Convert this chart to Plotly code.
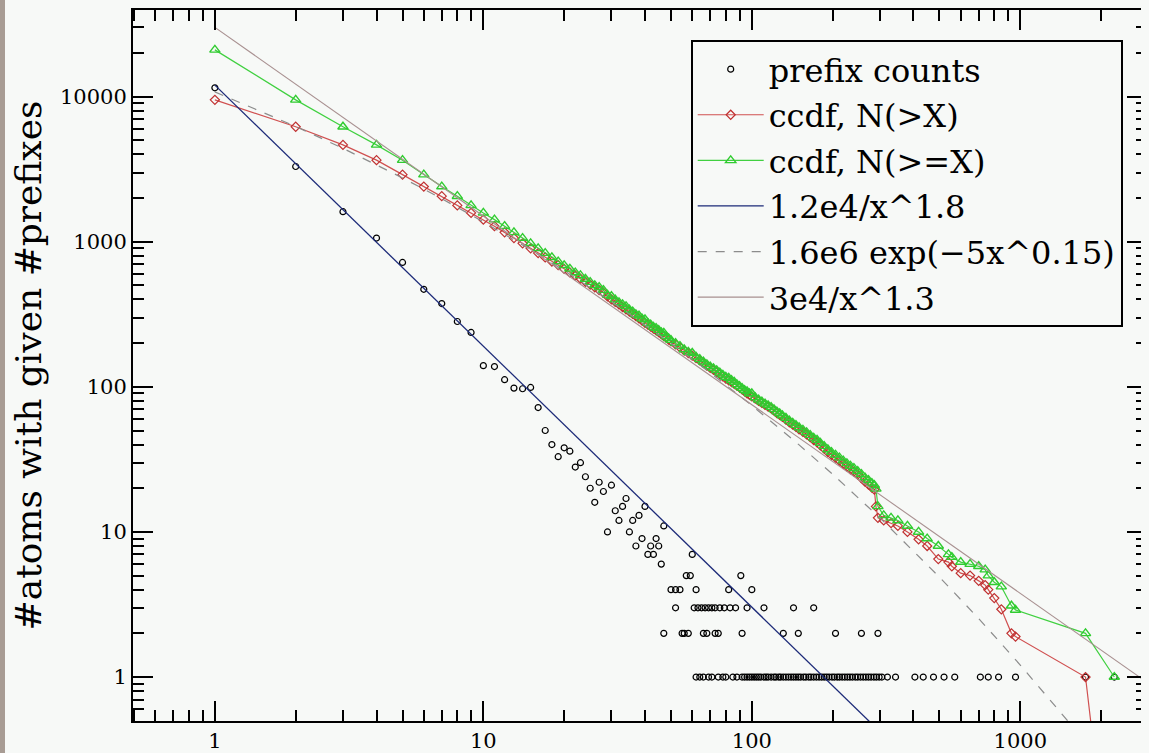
import plotly.graph_objects as go

# prefix counts: x = #prefixes, y = #atoms with that count
count_x = [1, 2, 3, 4, 5, 6, 7, 8, 9, 10, 11, 12, 13, 14, 15, 16, 17, 18, 19, 20,
           21, 22, 23, 24, 25, 26, 27, 28, 29, 30, 31, 32, 33, 34, 35, 36, 37, 38, 39, 40,
           41, 42, 43, 44, 45, 46, 47, 60,
           50, 52, 54, 62, 82, 100,
           57, 59, 91,
           52, 61, 63, 65, 67, 69, 71, 73, 76, 79, 83, 87, 96, 111, 143, 170,
           47, 55, 56, 58, 66, 68, 73, 75, 92, 131, 149, 205, 256, 295,
           62, 64, 66, 69, 71, 75, 78, 80, 85, 88, 92, 94, 96, 98, 100, 102, 104, 106,
           108, 111, 113, 115, 118, 121, 123, 126, 128, 131, 134, 137, 140, 143, 146,
           149, 152, 156, 159, 163, 166, 170, 174, 178, 182, 186, 190, 194, 199, 203,
           208, 212, 217, 222, 227, 232, 237, 243, 248, 254, 260, 266, 272, 278, 285,
           291, 298, 305, 320, 343, 405, 435, 475, 520, 570, 710, 760, 830, 960, 1750, 2240]
count_y = [11500, 3300, 1610, 1060, 720, 470, 375, 282, 237, 140, 138, 112, 98, 97, 99, 72, 50, 40, 33, 38,
           36, 28, 30, 24, 20, 16, 22, 19, 10, 21, 14, 12, 15, 17, 10, 12, 8, 13, 9, 15,
           7, 8, 7, 9, 8, 6, 11, 7,
           4, 4, 4, 4, 4, 4,
           5, 5, 5,
           3, 3, 3, 3, 3, 3, 3, 3, 3, 3, 3, 3, 3, 3, 3, 3,
           2, 2, 2, 2, 2, 2, 2, 2, 2, 2, 2, 2, 2, 2,
           1, 1, 1, 1, 1, 1, 1, 1, 1, 1, 1, 1, 1, 1, 1, 1, 1, 1,
           1, 1, 1, 1, 1, 1, 1, 1, 1, 1, 1, 1, 1, 1, 1, 1, 1,
           1, 1, 1, 1, 1, 1, 1, 1, 1, 1, 1, 1, 1, 1,
           1, 1, 1, 1, 1, 1, 1, 1, 1, 1, 1, 1, 1, 1, 1,
           1, 1, 1, 1, 1, 1, 1, 1, 1, 1, 1, 1, 1, 1, 1]

# x positions shared by both ccdf curves
ccdf_x = [1, 2, 3, 4, 5, 6, 7, 8, 9, 10, 11, 12, 13, 14, 15, 16, 17, 18, 19,
          20, 21, 22, 23, 24, 25, 26, 27, 28, 29, 30, 31, 32, 33, 34, 35, 36, 37, 38, 39,
          40, 41, 42, 43, 44, 45, 46, 47, 48, 49, 50, 52, 54, 56, 58, 60, 62, 64, 66, 68,
          70, 72, 74, 76, 78, 80, 82, 84, 86, 88, 90, 92, 94, 96, 98, 100, 103, 106, 109,
          112, 115, 118, 121, 124, 127, 130, 134, 138, 142, 146, 150, 155, 160, 165, 170,
          175, 180, 186, 192, 198, 205, 212, 219, 226, 233, 240, 248, 256, 264, 272, 280,
          286, 290, 295, 310, 330, 350, 380, 418, 450, 495, 540, 556, 600, 650, 700, 740,
          760, 800, 850, 927, 960, 1750, 2240]

# ccdf N(>X)
gt_y = [9500, 6200, 4650, 3650, 2900, 2400, 2060, 1780, 1580, 1420, 1280, 1160, 1060, 975, 900, 835, 780, 730, 690,
        650, 615, 585, 556, 530, 507, 485, 464, 445, 420, 400, 385, 370, 355, 342, 330, 318, 307, 296, 286,
        276, 268, 260, 252, 245, 238, 231, 224, 218, 212, 206, 196, 187, 178, 171, 164, 158, 152, 146, 140,
        135, 131, 127, 122, 118, 114, 111, 108, 105, 102, 99, 96, 93, 90, 88, 86, 83, 80, 77.5,
        75, 73, 71, 68.5, 66, 64, 62, 59.5, 57, 55, 53, 51, 49, 47, 45, 43,
        41.5, 39.5, 37.5, 35.5, 34, 32.5, 31, 29.5, 28.2, 27, 26, 24.8, 23.5, 22.2, 21.2, 20.2,
        19.6, 15, 12.5, 12, 11.5, 11, 10, 8.9, 8, 6.5, 6.2, 5.8, 5.2, 5, 4.6, 4.3,
        4.0, 3.5, 2.93, 2.0, 1.9, 1.0, 0.02]

# ccdf N(>=X)
ge_y = [21000, 9500, 6200, 4650, 3650, 2900, 2400, 2060, 1780, 1580, 1420, 1280, 1160, 1060, 975, 900, 835, 780, 730,
        688, 651, 613, 586, 554, 527, 501, 486, 464, 430, 421, 399, 382, 370, 359, 340, 330, 315, 309, 295,
        291, 275, 268, 259, 254, 246, 237, 235, 223, 216, 210, 200, 191, 181, 174, 171, 161, 155, 149, 143,
        138, 134, 130, 125, 121, 117, 115, 111, 108, 104, 101, 98, 95, 93, 90, 90, 84.5, 81.5, 79,
        76.5, 74.5, 72.5, 70, 67.5, 65.5, 63.5, 61, 58.5, 56.5, 54.5, 52.5, 50.5, 48.5, 46.5, 44.5,
        43, 41, 39, 37, 35.5, 34, 32.5, 31, 29.7, 28.5, 27.5, 26.2, 25, 23.7, 22.7, 21.7,
        21, 19.8, 15, 13, 12.5, 12, 11, 10, 9, 8, 7, 6.7, 6.2, 6, 5.8, 5.5,
        5, 4.5, 4.2, 3.1, 2.9, 2, 1]

# fit 1.2e4/x^1.8
fit1_x = [1, 300]
fit1_y = [12000, 0.42]
# fit 1.6e6 exp(-5x^0.15)
fit2_x = [1, 1.5, 2, 3, 5, 7, 10, 15, 20, 30, 50, 70, 100, 150, 200, 300, 500, 700, 1000, 1500, 2000]
fit2_y = [10781, 7880, 6232, 4403, 2753, 1980, 1371, 880, 632, 386, 199, 125, 74.4, 39.8, 25.0, 12.5,
          4.88, 2.53, 1.21, 0.50, 0.26]
# fit 3e4/x^1.3
fit3_x = [1, 3000]
fit3_y = [30000, 0.905]

x_ticks = [1, 10, 100, 1000]
y_ticks = [1, 10, 100, 1000, 10000]

SERIF = "DejaVu Serif, Liberation Serif, serif"
BG = "#f7f9f7"

fig = go.Figure()

fig.add_trace(go.Scatter(
    x=count_x, y=count_y, mode="markers", name="prefix counts", legendgroup="a",
    marker=dict(symbol="circle-open", size=6, color="black", line=dict(width=1.2))))

fig.add_trace(go.Scatter(
    x=ccdf_x[:len(gt_y)], y=gt_y, mode="lines+markers", name="ccdf, N(>X)", legendgroup="b",
    line=dict(color="#d05050", width=1.2),
    marker=dict(symbol="diamond-open", size=7, color="#c03030", line=dict(width=1.2))))

fig.add_trace(go.Scatter(
    x=ccdf_x[:len(ge_y)], y=ge_y, mode="lines+markers", name="ccdf, N(>=X)", legendgroup="c",
    line=dict(color="#40d040", width=1.2),
    marker=dict(symbol="triangle-up-open", size=9, color="#30cc30", line=dict(width=1.4))))

fig.add_trace(go.Scatter(
    x=fit1_x, y=fit1_y, mode="lines", name="1.2e4/x^1.8", legendgroup="d",
    line=dict(color="#1c2a78", width=1.3)))

fig.add_trace(go.Scatter(
    x=fit2_x, y=fit2_y, mode="lines", name="1.6e6 exp(\u22125x^0.15)", legendgroup="e",
    line=dict(color="#8c8c8c", width=1.2, dash="dash")))

fig.add_trace(go.Scatter(
    x=fit3_x, y=fit3_y, mode="lines", name="3e4/x^1.3", legendgroup="f",
    line=dict(color="#a89090", width=1.1)))

axis_common = dict(
    type="log", showgrid=False, zeroline=False,
    showline=True, linecolor="black", linewidth=2, mirror="ticks",
    ticks="inside", ticklen=20, tickwidth=2, tickcolor="black",
    minor=dict(ticks="inside", ticklen=11, tickwidth=2, tickcolor="black", dtick="D1", showgrid=False),
    tickfont=dict(family=SERIF, size=21, color="black"),
)

fig.update_xaxes(range=[-0.305, 3.472], tickvals=x_ticks, ticktext=[str(v) for v in x_ticks], **axis_common)
# leading spaces nudge the rotated title a little above the axis centre, as in the original
fig.update_yaxes(range=[-0.303, 4.597], tickvals=y_ticks, ticktext=[str(v) for v in y_ticks],
                 title=dict(text="\u00a0\u00a0\u00a0#atoms with given #prefixes",
                            font=dict(family=SERIF, size=36, color="black"),
                            standoff=10),
                 **axis_common)

# the page body adds an 8px margin, so the figure is 8px smaller than the window
fig.update_layout(
    width=1141, height=745,
    margin=dict(l=125, r=0, t=2, b=31),
    paper_bgcolor=BG, plot_bgcolor=BG,
    legend=dict(x=0.55, y=0.958, xanchor="left", yanchor="top",
                bgcolor=BG, bordercolor="black", borderwidth=2,
                font=dict(family=SERIF, size=32, color="black"),
                itemwidth=66, tracegroupgap=1, traceorder="grouped"),
)

fig.write_html("out.html", post_script=(
    "document.body.style.background="
    "'linear-gradient(to right, #a89c94 0px, #a89c94 5px, " + BG + " 5px)';"))
